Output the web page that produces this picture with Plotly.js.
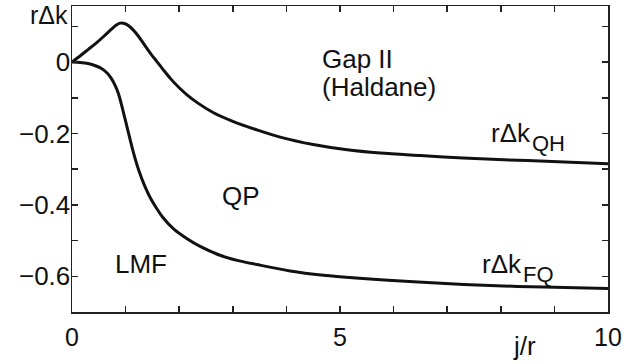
<!DOCTYPE html>
<html>
<head>
<meta charset="utf-8">
<script src="https://cdn.plot.ly/plotly-3.0.1.min.js"></script>
<style>html,body{margin:0;padding:0;background:#fff;}#chart{width:643px;height:364px;}</style>
</head>
<body>
<div id="chart"></div>
<script>
// QH curve (upper)
const qhX = [0, 0.15, 0.3, 0.45, 0.6, 0.72, 0.82, 0.9, 0.98, 1.08, 1.2, 1.33, 1.45, 1.58, 1.7, 1.83, 2.0, 2.14, 2.35, 2.64, 3.0, 3.45, 3.9, 4.5, 5.1, 5.75, 6.5, 7.3, 8.5, 10];
const qhY = [0, 0.017, 0.035, 0.053, 0.073, 0.090, 0.103, 0.109, 0.108, 0.099, 0.080, 0.053, 0.027, 0.002, -0.021, -0.045, -0.072, -0.091, -0.115, -0.142, -0.166, -0.190, -0.211, -0.231, -0.245, -0.255, -0.262, -0.269, -0.276, -0.285];
// FQ curve (lower)
const fqX = [0, 0.15, 0.3, 0.45, 0.55, 0.65, 0.73, 0.8, 0.87, 0.95, 1.04, 1.14, 1.25, 1.36, 1.46, 1.58, 1.7, 1.9, 2.14, 2.4, 2.76, 3.1, 3.45, 4.07, 4.69, 5.3, 5.9, 6.8, 7.8, 8.8, 10];
const fqY = [0, -0.001, -0.004, -0.011, -0.018, -0.030, -0.045, -0.064, -0.090, -0.135, -0.190, -0.250, -0.305, -0.348, -0.380, -0.410, -0.436, -0.468, -0.494, -0.517, -0.541, -0.556, -0.567, -0.585, -0.597, -0.605, -0.611, -0.619, -0.626, -0.630, -0.634];

const xTickVals = [0,1,2,3,4,5,6,7,8,9,10];
const xTickText = ['0','','','','','5','','','','','10'];
const yTickVals = [0.1, 0, -0.1, -0.2, -0.3, -0.4, -0.5, -0.6];
const yTickText = ['', '0', '', '\u22120.2', '', '\u22120.4', '', '\u22120.6'];

const FONT = 'Liberation Sans, Arial, Helvetica, sans-serif';
const lineStyle = {color: '#111', width: 3, shape: 'spline', smoothing: 0.8};

const traces = [
  {x: qhX, y: qhY, mode: 'lines', line: lineStyle, hoverinfo: 'skip'},
  {x: fqX, y: fqY, mode: 'lines', line: lineStyle, hoverinfo: 'skip'}
];

function ann(text, x, y, size, xanchor, ref, yanchor) {
  return {text: text, x: x, y: y, xref: ref ? 'paper' : 'x', yref: ref ? 'paper' : 'y', showarrow: false,
          xanchor: xanchor || 'center', yanchor: yanchor || 'middle', borderpad: 0,
          font: {family: FONT, size: size, color: '#111'}};
}

const layout = {
  width: 643, height: 364,
  margin: {l: 72, r: 35, t: 6, b: 52, pad: 0},
  paper_bgcolor: '#fff', plot_bgcolor: '#fff',
  showlegend: false,
  font: {family: FONT, size: 25, color: '#111'},
  xaxis: {
    range: [0, 10], showgrid: false, zeroline: false,
    showline: true, linecolor: '#222', linewidth: 1.5, mirror: 'ticks',
    ticks: 'inside', ticklen: 6, tickwidth: 1.5, tickcolor: '#222',
    tickmode: 'array', tickvals: xTickVals, ticktext: xTickText,
    tickfont: {family: FONT, size: 25, color: '#111'},
    ticklabelstandoff: 2
  },
  yaxis: {
    range: [-0.7, 0.157], showgrid: false, zeroline: false,
    showline: true, linecolor: '#222', linewidth: 1.5, mirror: 'ticks',
    ticks: 'inside', ticklen: 6, tickwidth: 1.5, tickcolor: '#222',
    tickmode: 'array', tickvals: yTickVals, ticktext: yTickText,
    tickfont: {family: FONT, size: 26, color: '#111'},
    ticklabelstandoff: -5
  },
  annotations: [
    ann('r\u0394k', -0.006, 1.0196, 25, 'right', true, 'top'),
    ann('j/r', 0.845, -0.112, 26, 'center', true),
    ann('Gap II', 4.64, 0.009, 26, 'left'),
    ann('(Haldane)', 4.64, -0.070, 26, 'left'),
    ann('QP', 3.15, -0.376, 26),
    ann('LMF', 1.29, -0.566, 26),
    ann('r\u0394k', 7.80, -0.200, 26, 'left'),
    ann('QH', 8.56, -0.227, 22, 'left'),
    ann('r\u0394k', 7.63, -0.565, 26, 'left'),
    ann('FQ', 8.40, -0.595, 22, 'left')
  ]
};

Plotly.newPlot('chart', traces, layout, {staticPlot: true, displayModeBar: false});
</script>
</body>
</html>
